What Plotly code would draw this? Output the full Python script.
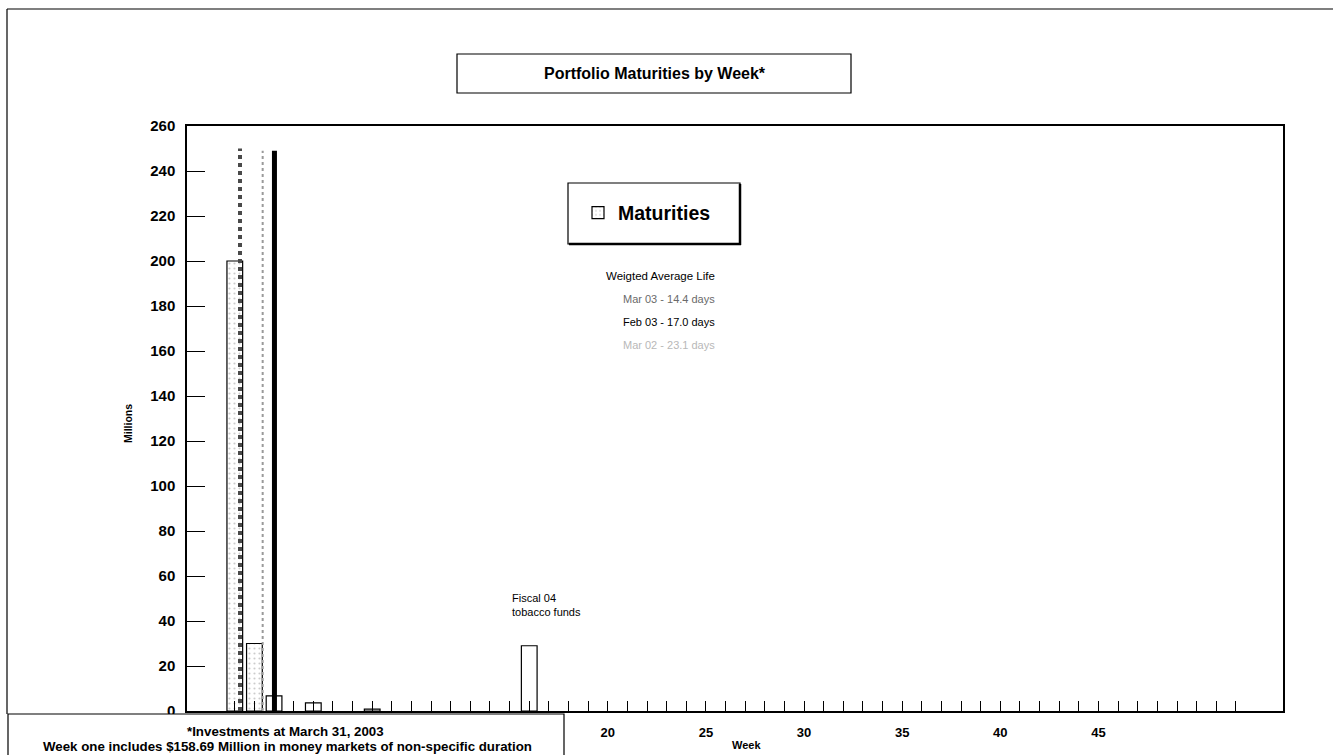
import plotly.graph_objects as go

# Maturities per week, in millions
weeks = [1, 2, 3, 5, 8, 16]
maturities = [200, 30, 6.7, 3.6, 0.8, 29]
stipple = [".", ".", "", "", "", ""]

# Weighted-average-life markers (position on the week axis, height in millions)
wal_weeks = [1.265, 2.42, 3.02]
wal_height = [250, 249, 249]
wal_colors = ["#4a4a4a", "#9a9a9a", "#000000"]
wal_widths = [4, 2, 5]
wal_dashes = ["dot", "dot", "solid"]

wal_labels = ["Mar 03 - 14.4 days", "Feb 03 - 17.0 days", "Mar 02 - 23.1 days"]
wal_label_colors = ["#6a6a6a", "#000000", "#b8b8b8"]

y_ticks = list(range(0, 261, 20))
x_ticks = list(range(1, 53))
x_labelled = [20, 25, 30, 35, 40, 45]

FONT = "Liberation Sans, Arial, sans-serif"

# plot area in pixels (page is 1333 x 755)
W, H = 1333, 755
L, R, T, B = 187, 1283, 126, 711


def px(x):
    return (x - L) / (R - L)


def py(y):
    return (B - y) / (B - T)


def note(text, x, y, size, color="black", xanchor="center", **kw):
    return dict(text=text, xref="paper", yref="paper", x=px(x), y=py(y),
                xanchor=xanchor, yanchor="middle", showarrow=False,
                font=dict(size=size, color=color, family=FONT), **kw)


fig = go.Figure()

fig.add_trace(go.Bar(
    x=weeks, y=maturities, width=0.8, name="Maturities",
    marker=dict(color="white", line=dict(color="black", width=1.2),
                pattern=dict(shape=stipple, fgcolor="#9a9a9a", size=5, solidity=0.15)),
    showlegend=True,
))

for xw, h, c, w, d in zip(wal_weeks, wal_height, wal_colors, wal_widths, wal_dashes):
    fig.add_trace(go.Scatter(
        x=[xw, xw], y=[0, h], mode="lines", showlegend=False,
        line=dict(color=c, width=w, dash=d), hoverinfo="skip",
    ))

shapes = [
    # page frame: top and left edges
    dict(type="line", xref="paper", yref="paper",
         x0=px(7), x1=px(1333), y0=py(9), y1=py(9),
         line=dict(color="black", width=1.2)),
    dict(type="line", xref="paper", yref="paper",
         x0=px(7), x1=px(7), y0=py(9), y1=py(714),
         line=dict(color="black", width=1.2)),
    # title box
    dict(type="rect", xref="paper", yref="paper",
         x0=px(457), x1=px(851), y0=py(93), y1=py(54),
         line=dict(color="black", width=1.2), fillcolor="white"),
    # legend box with shadow edge
    dict(type="rect", xref="paper", yref="paper",
         x0=px(568), x1=px(740), y0=py(244), y1=py(183),
         line=dict(color="black", width=1.2), fillcolor="white", layer="below"),
    dict(type="line", xref="paper", yref="paper",
         x0=px(740), x1=px(740), y0=py(245), y1=py(184),
         line=dict(color="black", width=2.5)),
    dict(type="line", xref="paper", yref="paper",
         x0=px(569), x1=px(741), y0=py(244), y1=py(244),
         line=dict(color="black", width=2.5)),
    # footnote box
    dict(type="rect", xref="paper", yref="paper",
         x0=px(8), x1=px(564), y0=py(770), y1=py(714),
         line=dict(color="black", width=1.2), fillcolor="white", layer="above"),
]

annotations = [
    note("<b>Portfolio Maturities by Week*</b>", 655, 73, 16),
    note("Weigted Average Life", 717, 276, 11.5, xanchor="right"),
    note("Fiscal 04<br>tobacco funds", 510, 605, 11, xanchor="left", align="left"),
    note("<b>Millions</b>", 128, 424, 10.5, textangle=-90),
    note("<b>Week</b>", 746, 745, 11),
    note("<b>*Investments at March 31, 2003</b>", 285, 731, 13.3),
    note("<b>Week one includes $158.69 Million in money markets of non-specific duration</b>",
         287, 746, 13.3),
]
for i, (lab, col) in enumerate(zip(wal_labels, wal_label_colors)):
    annotations.append(note(lab, 717, 299 + 23 * i, 11, color=col, xanchor="right"))

fig.update_layout(
    width=W, height=H,
    margin=dict(l=L, r=W - R, t=T, b=H - B, pad=0),
    paper_bgcolor="white", plot_bgcolor="white",
    font=dict(family=FONT, color="black"),
    shapes=shapes, annotations=annotations,
    legend=dict(x=px(578), y=py(213), xanchor="left", yanchor="middle",
                bgcolor="rgba(0,0,0,0)", borderwidth=0,
                font=dict(size=19.5, family=FONT, color="black", weight="bold")),
    xaxis=dict(
        range=[-1.435, 54.4], tickmode="array", tickvals=x_ticks,
        ticktext=[str(v) if v in x_labelled else "" for v in x_ticks],
        ticks="inside", ticklen=10, tickcolor="black", tickwidth=1,
        tickfont=dict(size=13, family=FONT, weight="bold"),
        ticklabelstandoff=9,
        showline=True, linecolor="black", linewidth=1.5, mirror=True,
        showgrid=False, zeroline=False,
    ),
    yaxis=dict(
        range=[0, 260], tickmode="array", tickvals=y_ticks,
        ticks="inside", ticklen=18, tickcolor="black", tickwidth=1,
        tickfont=dict(size=15, family=FONT, weight="bold"),
        ticklabelstandoff=7,
        showline=True, linecolor="black", linewidth=1.5, mirror=True,
        showgrid=False, zeroline=False,
    ),
)

fig.write_html("out.html")
